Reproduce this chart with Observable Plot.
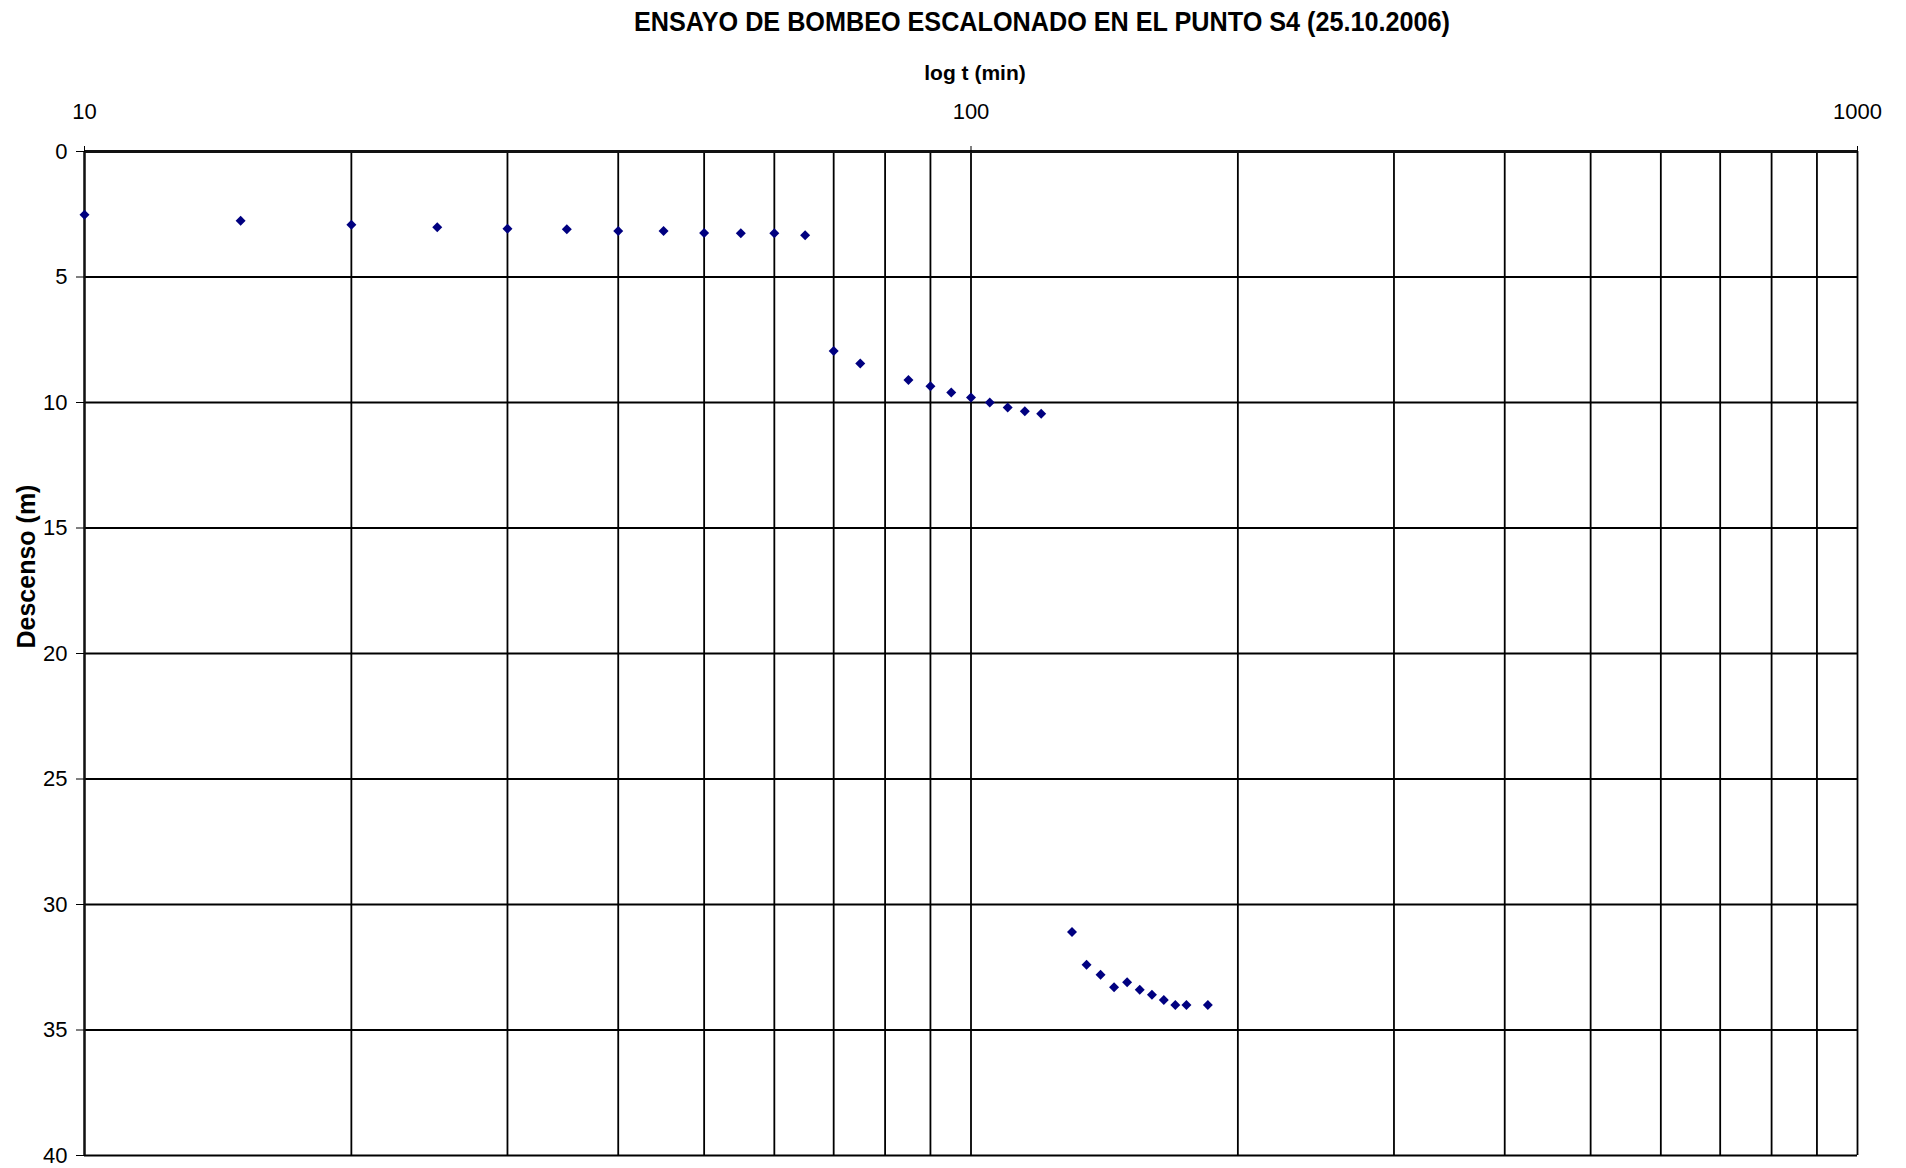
<!DOCTYPE html>
<html><head><meta charset="utf-8">
<script src="https://cdn.jsdelivr.net/npm/d3@7"></script>
<script src="https://cdn.jsdelivr.net/npm/@observablehq/plot@0.6"></script>
<style>
body{margin:0;background:#fff;font-family:"Liberation Sans",Arial,sans-serif;}
#wrap{position:relative;width:1906px;}
#title{position:relative;height:44px;}
#title span{position:absolute;left:1042px;top:22px;transform:translate(-50%,-50%) scale(0.9,1);white-space:nowrap;font-weight:bold;font-size:28px;color:#000;}
</style></head><body>
<div id="wrap">
<div id="title"><span>ENSAYO DE BOMBEO ESCALONADO EN EL PUNTO S4 (25.10.2006)</span></div>
<div id="chart"></div>
</div>
<script>
// tiempo (min) y descenso (m)
const tiempo = [10, 15, 20, 25, 30, 35, 40, 45, 50, 55, 60, 65,
                70, 75, 85, 90, 95, 100, 105, 110, 115, 120,
                130, 135, 140, 145, 150, 155, 160, 165, 170, 175, 185];
const descenso = [2.52, 2.76, 2.92, 3.02, 3.08, 3.1, 3.17, 3.17, 3.25, 3.26, 3.26, 3.34,
                  7.95, 8.45, 9.1, 9.35, 9.6, 9.8, 10.0, 10.2, 10.35, 10.45,
                  31.1, 32.4, 32.8, 33.3, 33.1, 33.4, 33.6, 33.8, 34.0, 34.0, 34.0];
const gridX = [10, 20, 30, 40, 50, 60, 70, 80, 90, 100, 200, 300, 400, 500, 600, 700, 800, 900, 1000];
const gridY = [0, 5, 10, 15, 20, 25, 30, 35, 40];
const etiquetasX = [10, 100, 1000];
const tituloX = "log t (min)";
const tituloY = "Descenso (m)";

const datos = tiempo.map((t, i) => ({t, s: descenso[i]}));

const chart = Plot.plot({
  width: 1906,
  height: 1124,
  marginTop: 107,
  marginLeft: 84,
  marginRight: 49,
  marginBottom: 13,
  style: {fontFamily: "'Liberation Sans', Arial, sans-serif", background: "#fff", color: "#000"},
  x: {type: "log", domain: [10, 1000]},
  y: {domain: [0, 40], reverse: true},
  marks: [
    Plot.ruleX(gridX, {stroke: "#000", strokeWidth: 1.8}),
    Plot.ruleY(gridY, {stroke: "#000", strokeWidth: 1.8}),
    Plot.ruleY([0], {stroke: "#111", strokeWidth: 2.8}),
    Plot.ruleX([10], {stroke: "#111", strokeWidth: 2.2}),
    Plot.axisX(etiquetasX, {anchor: "top", tickSize: 6, tickPadding: 27, label: null, fontSize: 22, tickFormat: d => String(d)}),
    Plot.axisY(gridY, {anchor: "left", tickSize: 8, tickPadding: 9, label: null, fontSize: 22}),
    Plot.dot(datos, {x: "t", y: "s", symbol: "diamond2", r: 4.5, fill: "#000080", stroke: "none"}),
    Plot.text([tituloX], {text: d => d, frameAnchor: "top", dx: 4, dy: -78, lineAnchor: "middle", fontSize: 21, fontWeight: "bold"}),
    Plot.text([tituloY], {text: d => d, frameAnchor: "left", rotate: -90, dx: -58, dy: -5, lineAnchor: "middle", fontSize: 25, fontWeight: "bold"})
  ]
});
document.getElementById("chart").appendChild(chart);
</script>
</body></html>
